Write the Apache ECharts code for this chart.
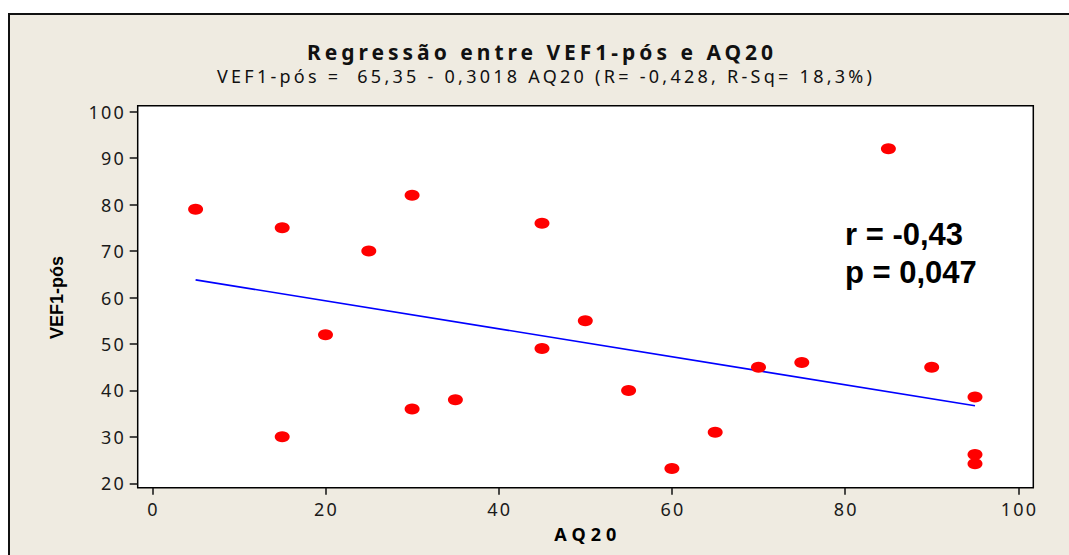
<!DOCTYPE html>
<html>
<head>
<meta charset="utf-8">
<script src="https://cdn.jsdelivr.net/npm/echarts@6/dist/echarts.min.js"></script>
<style>
html,body{margin:0;padding:0;background:#ffffff;}
#chart{width:1069px;height:555px;}
</style>
</head>
<body>
<div id="chart"></div>
<script>
// ---- data ----
const titleText = "Regressão entre VEF1-pós e AQ20";
const subtitleText = "VEF1-pós =  65,35 - 0,3018 AQ20 (R= -0,428, R-Sq= 18,3%)";
const xName = "AQ20";
const yName = "VEF1-pós";
const xTicks = [0, 20, 40, 60, 80, 100];
const yTicks = [20, 30, 40, 50, 60, 70, 80, 90, 100];
const aq20 = [5, 15, 15, 20, 25, 30, 30, 35, 45, 45, 50, 55, 60, 65, 70, 75, 85, 90, 95, 95, 95];
const vef1 = [79, 75, 30, 52, 70, 82, 36, 38, 76, 49, 55, 40, 23.2, 31, 45, 46, 92, 45, 38.6, 26.2, 24.2];
const fitX = [5, 95];
const fitY = [63.8, 36.7];
const annotation = ["r = -0,43", "p = 0,047"];

const points = aq20.map((x, i) => [x, vef1[i]]);
const fitLine = fitX.map((x, i) => [x, fitY[i]]);

// layout (pixels)
const W = 1069, H = 555;
const box = {l: 137.7, r: 1033.3, t: 105.7, b: 487.7};      // plot frame
const tick = {x0: 152.3, x100: 1018.3, y100: 111.7, y20: 483.3}; // tick positions
const pxPerX = (tick.x100 - tick.x0) / (xTicks[xTicks.length - 1] - xTicks[0]);
const pxPerY = (tick.y20 - tick.y100) / (yTicks[yTicks.length - 1] - yTicks[0]);
const yMinBox = yTicks[0] - (box.b - tick.y20) / pxPerY;
const yMaxBox = yTicks[yTicks.length - 1] + (tick.y100 - box.t) / pxPerY;

const chart = echarts.init(document.getElementById('chart'), null, {renderer: 'svg'});
const tickFont = {fontFamily: 'Noto Sans', fontSize: 18, color: '#1a1a1a'};
const tickLine = {color: '#111', width: 1.5};

chart.setOption({
  backgroundColor: '#ffffff',
  animation: false,
  graphic: [
    {type: 'rect', z: -10, shape: {x: 9, y: 14, width: 1080, height: 560},
     style: {fill: '#EFEBE1', stroke: '#111111', lineWidth: 2}},
    {type: 'text', z: 10, x: 845, y: 215,
     style: {text: annotation.join('\n'), font: 'bold 31px "Liberation Sans", Arial, sans-serif',
             fill: '#000000', lineHeight: 38}}
  ],
  title: [
    {text: titleText, left: 307, top: 41, padding: 0,
     textStyle: {fontFamily: 'Noto Sans', fontWeight: 'bold', fontSize: 21, color: '#111111'}},
    {text: subtitleText, left: 217, top: 67, padding: 0,
     textStyle: {fontFamily: 'Noto Sans', fontWeight: 'normal', fontSize: 18, color: '#111111'}}
  ],
  grid: [
    // 0: data grid - exact x tick range, full frame height
    {left: tick.x0, right: W - tick.x100, top: box.t, bottom: H - box.b},
    // 1: y-axis grid - full frame width, exact y tick range
    {left: box.l, right: W - box.r, top: tick.y100, bottom: H - tick.y20},
    // 2: the white plot frame
    {left: box.l, right: W - box.r, top: box.t, bottom: H - box.b, show: true,
     backgroundColor: '#ffffff', borderColor: '#000000', borderWidth: 1.5, z: -1}
  ],
  xAxis: [
    {type: 'value', gridIndex: 0, min: xTicks[0], max: xTicks[xTicks.length - 1], interval: 20,
     name: xName, nameLocation: 'middle', nameGap: 37,
     nameTextStyle: {fontFamily: 'Noto Sans', fontWeight: 'bold', fontSize: 18, color: '#000'},
     axisLine: {show: false}, splitLine: {show: false},
     axisTick: {show: true, inside: false, length: 7, lineStyle: tickLine},
     axisLabel: Object.assign({margin: 12}, tickFont)},
    {type: 'value', gridIndex: 1, min: 0, max: 1, show: false},
    {type: 'value', gridIndex: 2, min: 0, max: 1, show: false}
  ],
  yAxis: [
    {type: 'value', gridIndex: 0, min: yMinBox, max: yMaxBox, show: false},
    {type: 'value', gridIndex: 1, min: yTicks[0], max: yTicks[yTicks.length - 1], interval: 10,
     name: yName, nameLocation: 'middle', nameGap: 72, nameRotate: 90,
     nameTextStyle: {fontFamily: 'Liberation Sans', fontWeight: 'bold', fontSize: 18, color: '#000'},
     axisLine: {show: false}, splitLine: {show: false},
     axisTick: {show: true, inside: false, length: 8, lineStyle: tickLine},
     axisLabel: Object.assign({margin: 14}, tickFont)},
    {type: 'value', gridIndex: 2, min: 0, max: 1, show: false}
  ],
  series: [
    {type: 'line', xAxisIndex: 0, yAxisIndex: 0, data: fitLine, symbol: 'none',
     lineStyle: {color: '#0000FF', width: 1.6}, z: 3, silent: true},
    {type: 'scatter', xAxisIndex: 0, yAxisIndex: 0, data: points, symbol: 'circle',
     symbolSize: [15, 11], itemStyle: {color: '#FF0000', opacity: 1}, z: 4}
  ]
});

// Reference text is letter-spaced (Minitab style): widen selected texts.
const spaced = {};
spaced[titleText] = {width: 466};
spaced[subtitleText] = {width: 655};
spaced[xName] = {width: 62};
const tickStr = xTicks.concat(yTicks).map(String);
function applySpacing() {
  document.querySelectorAll('#chart svg text').forEach(el => {
    if (el.getAttribute('data-sp')) return;
    const t = el.textContent;
    let s = null;
    if (spaced[t]) {
      const nat = el.getComputedTextLength();
      s = (spaced[t].width - nat) / Math.max(1, t.length - 1);
    } else if (tickStr.indexOf(t) >= 0) {
      s = 2.2;
    }
    if (s === null) return;
    el.setAttribute('letter-spacing', s.toFixed(2));
    const anchor = el.getAttribute('text-anchor') || getComputedStyle(el).textAnchor;
    if (anchor === 'middle') el.setAttribute('dx', (s / 2).toFixed(2));
    else if (anchor === 'end') el.setAttribute('dx', s.toFixed(2));
    el.setAttribute('data-sp', '1');
  });
}
applySpacing();
chart.on('finished', applySpacing);
setTimeout(applySpacing, 0);
setTimeout(applySpacing, 100);
</script>
</body>
</html>
